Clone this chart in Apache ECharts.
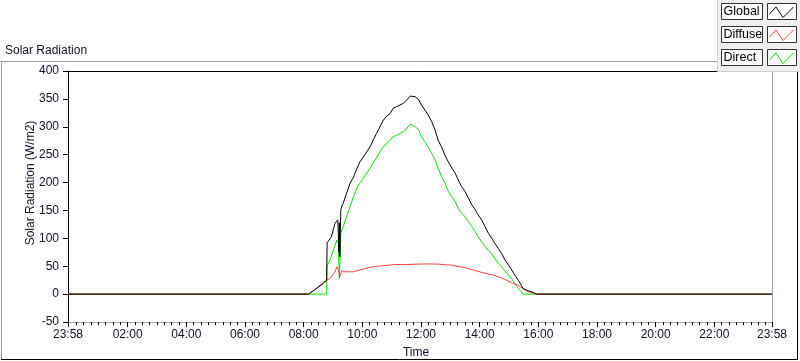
<!DOCTYPE html>
<html>
<head>
<meta charset="utf-8">
<script src="https://cdn.jsdelivr.net/npm/echarts@6/dist/echarts.min.js"></script>
<style>
html,body{margin:0;padding:0;background:#fff;}
#chart{width:800px;height:361px;}
</style>
</head>
<body>
<div id="chart"></div>
<script>
// ---- data (time in minutes since midnight, value in W/m2) ----
const xTickValues = [-2, 120, 240, 360, 480, 600, 720, 840, 960, 1080, 1200, 1320, 1438];
const xTickLabels = ['23:58','02:00','04:00','06:00','08:00','10:00','12:00','14:00','16:00','18:00','20:00','22:00','23:58'];
const yMin = -50, yMax = 400, yStep = 50;

const globalTime = [-2,490,503,520,527,528,537,544,550,552,553,554,556,558,561,568,575,582,589,595,602,609,616,622,629,636,643,650,657,663,670,677,684,691,698,701,708,715,721,728,735,742,749,755,762,769,776,783,790,796,803,810,817,824,831,837,844,851,858,865,871,878,885,892,899,906,912,919,925,929,940,950,957,1438];
const globalValue = [0,0,8,19,25,92,103,127,133,75,128,67,150,158,163,181,199,210,225,237,246,255,264,276,288,300,312,319,324,333,336,339,342,348,355,357,354,349,339,330,321,309,294,276,264,249,237,226,217,205,193,184,172,160,151,142,133,121,109,100,91,82,73,61,52,43,34,25,16,10,6,3,0,0];

const diffuseTime = [-2,490,503,520,527,534,544,548,551,554,558,561,565,568,575,582,589,606,622,643,667,691,718,752,780,807,828,848,869,890,904,918,928,935,945,955,1438];
const diffuseValue = [0,0,8,21,25,28,40,49,43,31,42,40,40,37,40,40,42,46,49,51,53,53,54,54,52,48,43,38,34,27,21,16,10,6,3,0,0];

const directTime = [-2,527,528,534,541,548,551,553,554,556,561,568,575,582,589,595,602,609,616,622,629,636,643,650,657,663,670,677,684,691,698,701,708,715,721,728,735,742,749,755,762,769,776,783,790,796,803,810,817,824,831,837,844,851,858,865,871,878,885,892,899,906,912,919,926,929,1438];
const directValue = [0,0,52,61,79,97,91,28,28,109,121,139,157,175,190,199,208,217,226,235,244,255,264,270,276,282,285,288,291,297,305,306,300,295,282,273,264,252,240,226,211,199,184,175,166,154,145,139,130,121,112,103,94,85,78,72,64,56,49,42,34,27,19,10,4,0,0];

const seriesNames = ['Global','Diffuse','Direct'];
const seriesColors = ['#000000','#ff4040','#00e000'];

// ---- helpers ----
function zip(t, v){ return t.map((x,i)=>[x, v[i]]); }
const minorTicks = [];
for (let m = 15; m < 1438; m += 15) { if (m % 120 !== 0) minorTicks.push(m); }

const FONT = 'Liberation Sans';
const TXT = '#101028';

const chart = echarts.init(document.getElementById('chart'), null, {renderer:'canvas'});

function legendItem(i, top){
  const x0 = 767, y0 = top;
  return [
    {type:'rect', z:20, shape:{x:721.5, y:top+0.5, width:41, height:16}, style:{fill:'#fbfbfb', stroke:'#333', lineWidth:1}, silent:true},
    {type:'text', z:21, x:723.5, y:top+9, style:{text:seriesNames[i], fill:'#000', font:'12.5px "'+FONT+'"', verticalAlign:'middle', align:'left'}},
    {type:'rect', z:20, shape:{x:767.5, y:top+0.5, width:29, height:16}, style:{fill:'#fff', stroke:'#333', lineWidth:1}, silent:true},
    {type:'polyline', z:21, shape:{points:[[x0+2.5,y0+11],[x0+9,y0+4],[x0+16,y0+14.5],[x0+26.5,y0+4]]}, style:{stroke:seriesColors[i], lineWidth:1, fill:null}, silent:true}
  ];
}

const option = {
  animation:false,
  backgroundColor:'#fff',
  title:{text:'Solar Radiation', left:5, top:45, padding:0, textStyle:{fontFamily:FONT, fontSize:12, fontWeight:'normal', color:TXT}},
  grid:{left:68, right:28, top:71, bottom:39, show:false},
  xAxis:[
    {type:'value', min:-2, max:1438, position:'bottom',
     axisLine:{show:true, onZero:false, lineStyle:{color:'#a0a0a0', width:1}},
     axisTick:{show:true, customValues:xTickValues, length:5, lineStyle:{color:'#000', width:1}},
     axisLabel:{show:true, customValues:xTickValues, margin:7, color:TXT, fontFamily:FONT, fontSize:12, showMinLabel:true, showMaxLabel:true, hideOverlap:false,
       formatter:function(v){ const i = xTickValues.indexOf(v); return i>=0 ? xTickLabels[i] : ''; }},
     splitLine:{show:false}},
    {type:'value', min:-2, max:1438, position:'bottom',
     axisLine:{show:false, onZero:false},
     axisTick:{show:true, customValues:minorTicks, length:3, lineStyle:{color:'#000', width:1}},
     axisLabel:{show:false}, splitLine:{show:false}},
    {type:'value', min:-2, max:1438, position:'top',
     axisLine:{show:true, onZero:false, lineStyle:{color:'#000', width:1}},
     axisTick:{show:false}, axisLabel:{show:false}, splitLine:{show:false}}
  ],
  yAxis:[
    {type:'value', min:yMin, max:yMax, interval:yStep, position:'left',
     axisLine:{show:true, onZero:false, lineStyle:{color:'#000', width:1}},
     axisTick:{show:true, length:5, lineStyle:{color:'#000'}},
     axisLabel:{margin:9, color:TXT, fontFamily:FONT, fontSize:12},
     splitLine:{show:false}},
    {type:'value', min:yMin, max:yMax, interval:yStep, position:'right',
     axisLine:{show:true, onZero:false, lineStyle:{color:'#a0a0a0', width:1}},
     axisTick:{show:false}, axisLabel:{show:false}, splitLine:{show:false}}
  ],
  series:[
    {name:'Direct', type:'line', xAxisIndex:0, yAxisIndex:0, data:zip(directTime, directValue), symbol:'none', lineStyle:{color:seriesColors[2], width:1}, itemStyle:{color:seriesColors[2]}, z:2},
    {name:'Diffuse', type:'line', xAxisIndex:0, yAxisIndex:0, data:zip(diffuseTime, diffuseValue), symbol:'none', lineStyle:{color:seriesColors[1], width:1}, itemStyle:{color:seriesColors[1]}, z:3},
    {name:'Global', type:'line', xAxisIndex:0, yAxisIndex:0, data:zip(globalTime, globalValue), symbol:'none', lineStyle:{color:seriesColors[0], width:1}, itemStyle:{color:seriesColors[0]}, z:4}
  ],
  graphic:[
    // outer frame
    {type:'line', shape:{x1:0, y1:61.5, x2:717, y2:61.5}, style:{stroke:'#a0a0a0', lineWidth:1}, silent:true},
    {type:'line', shape:{x1:1.5, y1:61, x2:1.5, y2:359}, style:{stroke:'#a0a0a0', lineWidth:1}, silent:true},
    {type:'line', shape:{x1:1, y1:359.5, x2:798, y2:359.5}, style:{stroke:'#000', lineWidth:1}, silent:true},
    {type:'line', shape:{x1:797.5, y1:72, x2:797.5, y2:360}, style:{stroke:'#000', lineWidth:1}, silent:true},
    // axis names
    {type:'text', x:416, y:353, style:{text:'Time', fill:TXT, font:'12px "'+FONT+'"', align:'center', verticalAlign:'middle'}},
    {type:'text', x:31, y:183, rotation:Math.PI/2, style:{text:'Solar Radiation (W/m2)', fill:TXT, font:'12px "'+FONT+'"', align:'center', verticalAlign:'middle'}},
    // legend panel
    {type:'rect', z:10, shape:{x:717.5, y:-1, width:84, height:72.5}, style:{fill:'#f0f0f0', stroke:'#d0d0d0', lineWidth:1}, silent:true}
  ].concat(legendItem(0,3), legendItem(1,26), legendItem(2,49))
};
chart.setOption(option);
</script>
</body>
</html>
